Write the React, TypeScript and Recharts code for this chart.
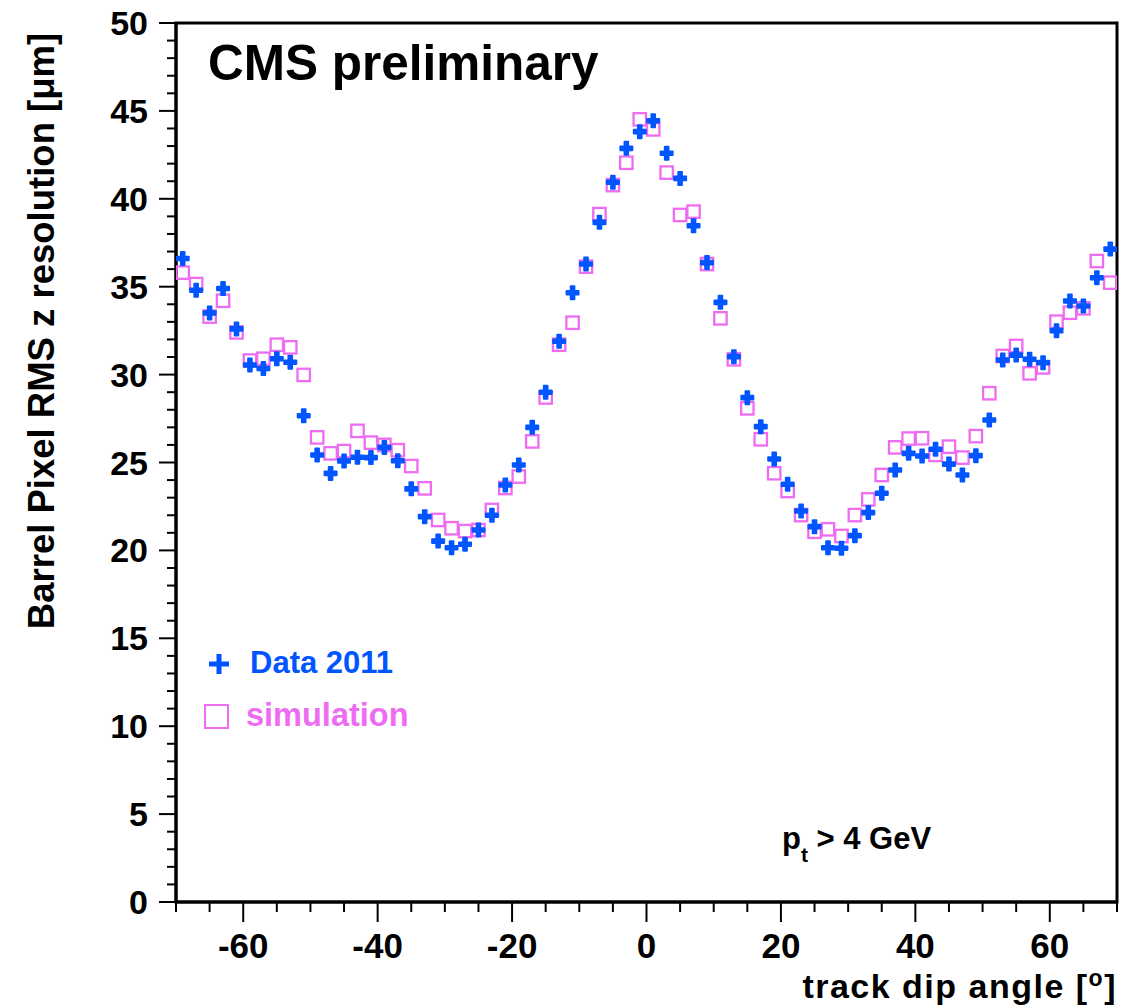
import React from 'react';
import { ScatterChart, Scatter, XAxis, YAxis, ReferenceArea } from 'recharts';

// dip angle bin centres [deg]
const angles = [
  -69, -67, -65, -63, -61, -59, -57, -55, -53, -51, -49, -47, -45, -43, -41, -39, -37, -35,
  -33, -31, -29, -27, -25, -23, -21, -19, -17, -15, -13, -11, -9, -7, -5, -3, -1,
  1, 3, 5, 7, 9, 11, 13, 15, 17, 19, 21, 23, 25, 27, 29, 31, 33, 35,
  37, 39, 41, 43, 45, 47, 49, 51, 53, 55, 57, 59, 61, 63, 65, 67, 69,
];

// RMS z resolution [um], Data 2011
const data2011 = [
  36.6, 34.8, 33.5, 34.9, 32.6, 30.55, 30.35, 30.9, 30.7, 27.66, 25.43, 24.38, 25.09, 25.3, 25.28, 25.86, 25.1, 23.5,
  21.92, 20.53, 20.15, 20.35, 21.16, 22.0, 23.72, 24.86, 27.0, 29.0, 31.9, 34.66, 36.29, 38.66, 40.94, 42.87, 43.82,
  44.44, 42.59, 41.16, 38.47, 36.37, 34.11, 31.02, 28.69, 27.04, 25.2, 23.76, 22.24, 21.35, 20.15, 20.12, 20.84, 22.15, 23.25,
  24.57, 25.52, 25.37, 25.75, 24.91, 24.29, 25.39, 27.42, 30.83, 31.11, 30.87, 30.68, 32.5, 34.19, 33.9, 35.51, 37.14,
];

// RMS z resolution [um], simulation
const simulation = [
  35.8, 35.15, 33.3, 34.2, 32.4, 30.8, 30.9, 31.7, 31.55, 29.98, 26.43, 25.52, 25.65, 26.8, 26.13, 26.0, 25.7, 24.8,
  23.53, 21.73, 21.26, 21.1, 21.16, 22.3, 23.55, 24.2, 26.2, 28.7, 31.7, 32.95, 36.14, 39.13, 40.78, 42.05, 44.52,
  43.95, 41.49, 39.08, 39.27, 36.29, 33.2, 30.87, 28.08, 26.32, 24.39, 23.38, 22.01, 21.06, 21.2, 20.82, 22.01, 22.9, 24.29,
  25.86, 26.36, 26.38, 25.43, 25.9, 25.28, 26.5, 28.94, 31.06, 31.63, 30.07, 30.41, 33.01, 33.52, 33.77, 36.46, 35.23,
];

const xMajorTicks = [-60, -40, -20, 0, 20, 40, 60];
const xTicks = [-70, -65, -60, -55, -50, -45, -40, -35, -30, -25, -20, -15, -10, -5, 0, 5, 10, 15, 20, 25, 30, 35, 40, 45, 50, 55, 60, 65, 70];
const yMajorTicks = [0, 5, 10, 15, 20, 25, 30, 35, 40, 45, 50];
const yTicks = [
  0, 1, 2, 3, 4, 5, 6, 7, 8, 9, 10, 11, 12, 13, 14, 15, 16, 17, 18, 19, 20, 21, 22, 23, 24, 25,
  26, 27, 28, 29, 30, 31, 32, 33, 34, 35, 36, 37, 38, 39, 40, 41, 42, 43, 44, 45, 46, 47, 48, 49, 50,
];

const W = 1137;
const H = 1007;
const FONT = '"Liberation Sans", Arial, Helvetica, sans-serif';
const BLUE = '#0055ff';
const PINK = '#ee6cf2';

const dataPoints = angles.map((a, i) => ({ x: a, y: data2011[i] }));
const simPoints = angles.map((a, i) => ({ x: a, y: simulation[i] }));

function PlusMarker(props: any) {
  const { cx, cy } = props;
  if (cx == null || cy == null) return null;
  return (
    <g fill={BLUE}>
      <rect x={cx - 7} y={cy - 2.8} width={14} height={5.6} rx={1} />
      <rect x={cx - 2.8} y={cy - 7.5} width={5.6} height={15} rx={1} />
    </g>
  );
}

function SquareMarker(props: any) {
  const { cx, cy } = props;
  if (cx == null || cy == null) return null;
  return <rect x={cx - 6.2} y={cy - 6.2} width={12.4} height={12.4} fill="none" stroke={PINK} strokeWidth={2.3} />;
}

function XTick(props: any) {
  const { x, y, payload } = props;
  const v = payload.value;
  const major = xMajorTicks.includes(v);
  return (
    <g>
      <line x1={x} x2={x} y1={y} y2={y + (major ? 20 : 10)} stroke="#000" strokeWidth={2} />
      {major && (
        <text x={x} y={y + 56} textAnchor="middle" fontSize={35} fontWeight="bold" fontFamily={FONT} fill="#000">
          {v}
        </text>
      )}
    </g>
  );
}

function YTick(props: any) {
  const { x, y, payload } = props;
  const v = payload.value;
  const major = yMajorTicks.includes(v);
  return (
    <g>
      <line x1={x - (major ? 17 : 9)} x2={x} y1={y} y2={y} stroke="#000" strokeWidth={2} />
      {major && (
        <text x={x - 28} y={y + 12} textAnchor="end" fontSize={34} fontWeight="bold" fontFamily={FONT} fill="#000">
          {v}
        </text>
      )}
    </g>
  );
}

export default function App() {
  return (
    <div style={{ position: 'absolute', left: 0, top: 0, width: W, height: H, background: '#fff' }}>
      <ScatterChart width={W} height={H} margin={{ top: 23, right: 20, bottom: 45, left: 116 }}>
        <XAxis
          dataKey="x"
          type="number"
          domain={[-70, 70]}
          ticks={xTicks}
          interval={0}
          allowDataOverflow
          height={60}
          tickSize={0}
          tickMargin={0}
          tickLine={false}
          axisLine={{ stroke: '#000', strokeWidth: 3 }}
          tick={<XTick />}
        />
        <YAxis
          dataKey="y"
          type="number"
          domain={[0, 50]}
          ticks={yTicks}
          interval={0}
          allowDataOverflow
          width={60}
          tickSize={0}
          tickMargin={0}
          tickLine={false}
          axisLine={{ stroke: '#000', strokeWidth: 3 }}
          tick={<YTick />}
        />
        <ReferenceArea x1={-70} x2={70} y1={0} y2={50} fill="none" fillOpacity={0} stroke="#000" strokeWidth={3} />
        <Scatter name="simulation" data={simPoints} shape={<SquareMarker />} isAnimationActive={false} />
        <Scatter name="Data 2011" data={dataPoints} shape={<PlusMarker />} isAnimationActive={false} />
      </ScatterChart>
      <svg width={W} height={H} style={{ position: 'absolute', left: 0, top: 0, pointerEvents: 'none' }}>
        <text x={208} y={80} fontSize={49.5} fontWeight="bold" fontFamily={FONT} fill="#000">
          CMS preliminary
        </text>
        <text
          x={54}
          y={331}
          transform="rotate(-90, 54, 331)"
          textAnchor="middle"
          fontSize={36.5}
          fontWeight="bold"
          fontFamily={FONT}
          fill="#000"
        >
          Barrel Pixel RMS z resolution [μm]
        </text>
        <text x={1117} y={998} textAnchor="end" fontSize={34} letterSpacing={1.5} fontWeight="bold" fontFamily={FONT} fill="#000">
          track dip angle [<tspan fontSize={23} dy={-12}>o</tspan>
          <tspan dy={12}>]</tspan>
        </text>
        <text x={782} y={849} fontSize={31} fontWeight="bold" fontFamily={FONT} fill="#000">
          p<tspan fontSize={21} dy={13}>t</tspan>
          <tspan dy={-13}> &gt; 4 GeV</tspan>
        </text>
        <g fill={BLUE}>
          <rect x={209} y={661.5} width={20} height={5} />
          <rect x={216.5} y={654} width={5} height={20} />
        </g>
        <text x={250} y={673} fontSize={31} fontWeight="bold" fontFamily={FONT} fill={BLUE}>
          Data 2011
        </text>
        <rect x={205} y={705} width={23} height={23} fill="none" stroke={PINK} strokeWidth={2} />
        <text x={246} y={726} fontSize={32.5} fontWeight="bold" fontFamily={FONT} fill={PINK}>
          simulation
        </text>
      </svg>
    </div>
  );
}
